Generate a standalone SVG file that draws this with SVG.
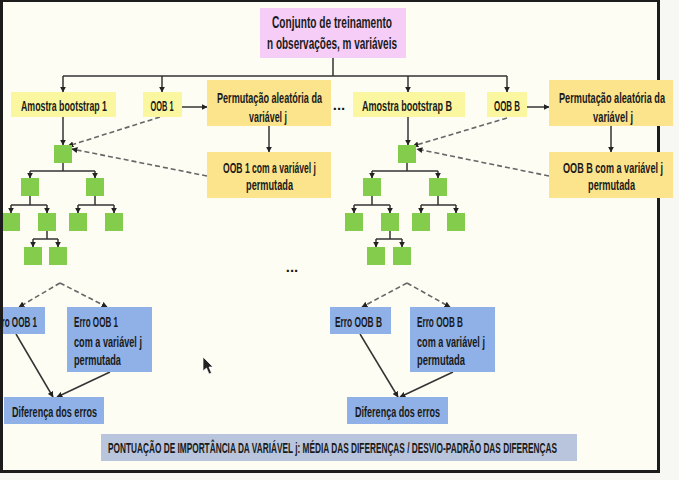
<svg xmlns="http://www.w3.org/2000/svg" width="679" height="480" viewBox="0 0 679 480">
<defs>
<marker id="ah" viewBox="0 0 10 10" refX="9" refY="5" markerWidth="6" markerHeight="6" markerUnits="userSpaceOnUse" orient="auto">
<path d="M0,0 L10,5 L0,10 z" fill="#222"/>
</marker>
<style>
text{font-family:"Liberation Sans","Arial",sans-serif;font-weight:bold;fill:#1a1a1a;font-size:15px}
.c{text-anchor:middle}
.t{font-size:16px}
.s{font-size:14px}
.pink{fill:#f5cdf6}
.ly{fill:#fbf7a0}
.dy{fill:#fce48d}
.g{fill:#84cc4c}
.b{fill:#8fb1e7}
.bar{fill:#b8c5dc}
.ln{stroke:#333;stroke-width:1.5;fill:none}
.arr{stroke:#333;stroke-width:1.5;fill:none;marker-end:url(#ah)}
.dash{stroke:#666;stroke-width:1.6;fill:none;stroke-dasharray:5 3;marker-end:url(#ah)}
</style>
</defs>
<rect x="0" y="0" width="679" height="480" fill="#f7f7f4"/>
<rect x="0" y="0" width="659" height="472" fill="#fdfdf4"/>
<g id="frame" fill="#1c1c1c">
<rect x="0" y="0" width="3" height="473"/>
<rect x="0" y="0" width="660" height="2"/>
<rect x="657" y="0" width="3" height="473"/>
<rect x="0" y="470" width="660" height="3"/>
</g>

<g id="connectors">
<path class="ln" d="M333,58 V76 M63,76 H507"/>
<path class="arr" d="M63,76 V92"/>
<path class="arr" d="M162,76 V92"/>
<path class="arr" d="M408,76 V92"/>
<path class="arr" d="M507,76 V92"/>
<path class="arr" d="M182,107 H207"/>
<path class="arr" d="M527,107 H549"/>
<path class="arr" d="M269,126 V152"/>
<path class="arr" d="M611,126 V152"/>
<path class="arr" d="M63,117 V145"/>
<path class="arr" d="M408,117 V145"/>
<path class="dash" d="M160,117 L68,146"/>
<path class="dash" d="M207,176 L72,149"/>
<path class="dash" d="M507,118 L413,146"/>
<path class="dash" d="M549,176 L417,149"/>
<path class="ln" d="M63,163 V171 H30 M63,171 H95 M30,196 V205 H11 M30,205 H47 M95,196 V205 H78 M95,205 H114 M47,231 V239 H33 M47,239 H58"/>
<path class="arr" d="M30,171 V178"/><path class="arr" d="M95,171 V178"/>
<path class="arr" d="M11,205 V213"/><path class="arr" d="M47,205 V213"/>
<path class="arr" d="M78,205 V213"/><path class="arr" d="M114,205 V213"/>
<path class="arr" d="M33,239 V247"/><path class="arr" d="M58,239 V247"/>
<path class="ln" d="M407,163 V171 H372 M407,171 H438 M372,196 V205 H354 M372,205 H390 M438,196 V205 H421 M438,205 H456 M390,231 V239 H376 M390,239 H402"/>
<path class="arr" d="M372,171 V178"/><path class="arr" d="M438,171 V178"/>
<path class="arr" d="M354,205 V213"/><path class="arr" d="M390,205 V213"/>
<path class="arr" d="M421,205 V213"/><path class="arr" d="M456,205 V213"/>
<path class="arr" d="M376,239 V247"/><path class="arr" d="M402,239 V247"/>
<path class="dash" d="M60,283 L19,307"/>
<path class="dash" d="M60,283 L107,307"/>
<path class="dash" d="M407,283 L362,307"/>
<path class="dash" d="M407,283 L450,307"/>
<path class="arr" d="M16,334 L53,397"/>
<path class="arr" d="M110,372 L57,397"/>
<path class="arr" d="M360,334 L398,397"/>
<path class="arr" d="M453,372 L400,397"/>
</g>

<g id="n-train"><rect class="pink" x="260" y="8" width="146" height="50"/>
<text class="c t" transform="translate(332,27.5) scale(0.6,1)" textLength="200" lengthAdjust="spacingAndGlyphs">Conjunto de treinamento</text>
<text class="c t" transform="translate(332,49) scale(0.6,1)" textLength="216.7" lengthAdjust="spacingAndGlyphs">n observações, m variáveis</text></g>

<g id="n-boot1"><rect class="ly" x="11" y="92" width="105" height="25"/>
<text class="c" transform="translate(64,110.5) scale(0.6,1)" textLength="143.3" lengthAdjust="spacingAndGlyphs">Amostra bootstrap 1</text></g>
<g id="n-oob1"><rect class="ly" x="143" y="92" width="39" height="25"/>
<text class="c" transform="translate(162,110.5) scale(0.6,1)" textLength="38.3" lengthAdjust="spacingAndGlyphs">OOB 1</text></g>
<g id="n-perm1"><rect class="dy" x="207" y="80" width="124" height="46"/>
<text class="c" transform="translate(269.5,102.5) scale(0.6,1)" textLength="175" lengthAdjust="spacingAndGlyphs">Permutação aleatória da</text>
<text class="c" transform="translate(268,121.5) scale(0.6,1)" textLength="63.3" lengthAdjust="spacingAndGlyphs">variável j</text></g>
<g id="n-oob1p"><rect class="dy" x="207" y="152" width="124" height="46"/>
<text class="c" transform="translate(269.5,173) scale(0.6,1)" textLength="155" lengthAdjust="spacingAndGlyphs">OOB 1 com a variável j</text>
<text class="c" transform="translate(269.5,190) scale(0.6,1)" textLength="78.3" lengthAdjust="spacingAndGlyphs">permutada</text></g>

<text id="dots1" class="c" x="339" y="110">...</text>

<g id="n-bootB"><rect class="ly" x="353" y="92" width="112" height="25"/>
<text class="c" transform="translate(407,110.5) scale(0.6,1)" textLength="150" lengthAdjust="spacingAndGlyphs">Amostra bootstrap B</text></g>
<g id="n-oobB"><rect class="ly" x="487" y="92" width="40" height="25"/>
<text class="c" transform="translate(507,110.5) scale(0.6,1)" textLength="43.3" lengthAdjust="spacingAndGlyphs">OOB B</text></g>
<g id="n-permB"><rect class="dy" x="549" y="80" width="124" height="46"/>
<text class="c" transform="translate(612,102.5) scale(0.6,1)" textLength="176.7" lengthAdjust="spacingAndGlyphs">Permutação aleatória da</text>
<text class="c" transform="translate(613,121.5) scale(0.6,1)" textLength="66.7" lengthAdjust="spacingAndGlyphs">variável j</text></g>
<g id="n-oobBp"><rect class="dy" x="549" y="152" width="124" height="46"/>
<text class="c" transform="translate(613,173) scale(0.6,1)" textLength="166.7" lengthAdjust="spacingAndGlyphs">OOB B com a variável j</text>
<text class="c" transform="translate(611.5,190) scale(0.6,1)" textLength="78.3" lengthAdjust="spacingAndGlyphs">permutada</text></g>

<g id="tree1">
<rect class="g" x="54" y="145" width="18" height="18"/>
<rect class="g" x="21" y="178" width="18" height="18"/>
<rect class="g" x="86" y="178" width="18" height="18"/>
<rect class="g" x="3" y="213" width="17" height="18"/>
<rect class="g" x="38" y="213" width="18" height="18"/>
<rect class="g" x="69" y="213" width="18" height="18"/>
<rect class="g" x="105" y="213" width="18" height="18"/>
<rect class="g" x="24" y="247" width="18" height="18"/>
<rect class="g" x="49" y="247" width="18" height="18"/>
</g>
<g id="treeB">
<rect class="g" x="398" y="145" width="18" height="18"/>
<rect class="g" x="363" y="178" width="18" height="18"/>
<rect class="g" x="429" y="178" width="18" height="18"/>
<rect class="g" x="345" y="213" width="18" height="18"/>
<rect class="g" x="381" y="213" width="18" height="18"/>
<rect class="g" x="412" y="213" width="18" height="18"/>
<rect class="g" x="447" y="213" width="18" height="18"/>
<rect class="g" x="367" y="247" width="18" height="18"/>
<rect class="g" x="393" y="247" width="18" height="18"/>
</g>

<text id="dots2" class="c" x="292" y="272">...</text>

<g id="n-err1"><rect class="b" x="3" y="307" width="42" height="27"/>
<text transform="translate(-7,327) scale(0.6,1)" textLength="73.3" lengthAdjust="spacingAndGlyphs">Erro OOB 1</text></g>
<g id="n-err1p"><rect class="b" x="67" y="307" width="85" height="65"/>
<text transform="translate(74,327) scale(0.6,1)" textLength="73.3" lengthAdjust="spacingAndGlyphs">Erro OOB 1</text>
<text transform="translate(74,347) scale(0.6,1)" textLength="113.3" lengthAdjust="spacingAndGlyphs">com a variável j</text>
<text transform="translate(74,365) scale(0.6,1)" textLength="78.3" lengthAdjust="spacingAndGlyphs">permutada</text></g>
<g id="n-dif1"><rect class="b" x="4" y="397" width="100" height="27"/>
<text class="c" transform="translate(54.5,417) scale(0.6,1)" textLength="141.7" lengthAdjust="spacingAndGlyphs">Diferença dos erros</text></g>

<g id="n-errB"><rect class="b" x="330" y="307" width="61" height="27"/>
<text transform="translate(335,327) scale(0.6,1)" textLength="78.3" lengthAdjust="spacingAndGlyphs">Erro OOB B</text></g>
<g id="n-errBp"><rect class="b" x="410" y="307" width="85" height="65"/>
<text transform="translate(417,327) scale(0.6,1)" textLength="76.7" lengthAdjust="spacingAndGlyphs">Erro OOB B</text>
<text transform="translate(417,347) scale(0.6,1)" textLength="113.3" lengthAdjust="spacingAndGlyphs">com a variável j</text>
<text transform="translate(417,365) scale(0.6,1)" textLength="80" lengthAdjust="spacingAndGlyphs">permutada</text></g>
<g id="n-difB"><rect class="b" x="347" y="397" width="101" height="27"/>
<text class="c" transform="translate(397.5,417) scale(0.6,1)" textLength="141.7" lengthAdjust="spacingAndGlyphs">Diferença dos erros</text></g>

<g id="n-score"><rect class="bar" x="101" y="434" width="476" height="27"/>
<text class="c s" transform="translate(332.5,453) scale(0.6,1)" textLength="748.3" lengthAdjust="spacingAndGlyphs">PONTUAÇÃO DE IMPORTÂNCIA DA VARIÁVEL j: MÉDIA DAS DIFERENÇAS / DESVIO-PADRÃO DAS DIFERENÇAS</text></g>

<path id="cursor" d="M203,357 L203,371 L206.5,368 L209,374 L211.5,373 L209,367 L213,367 Z" fill="#222" stroke="#fff" stroke-width="0.7"/>
</svg>
